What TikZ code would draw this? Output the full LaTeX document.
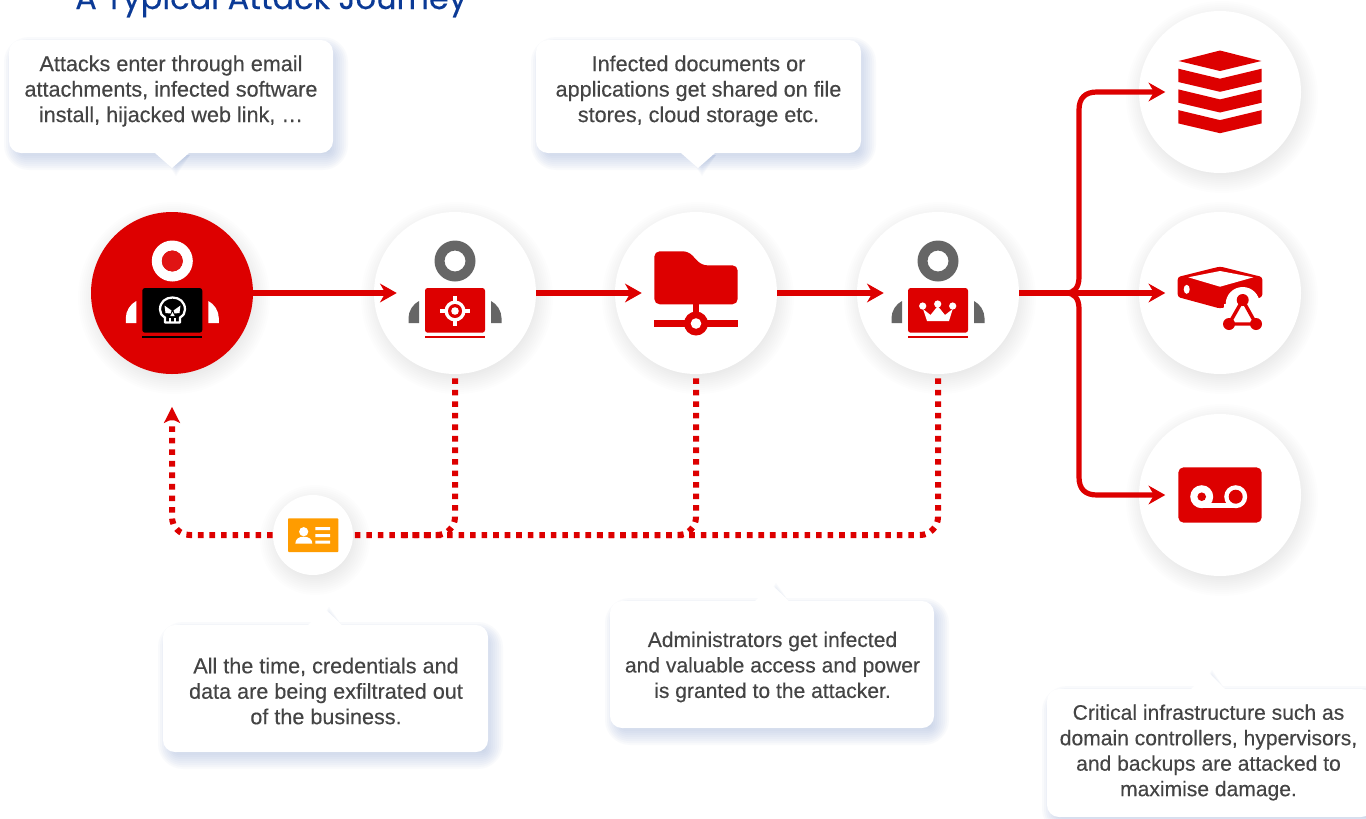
\documentclass[tikz,border=0pt]{standalone}
\usepackage{fontspec}
\usetikzlibrary{arrows.meta}
\setmainfont{Liberation Sans}
\newfontfamily\titlefont[FakeBold=0.25]{Poppins}
\newfontfamily\bodyfont[FakeBold=0.3]{Liberation Sans}
\definecolor{rd}{HTML}{DD0000}
\definecolor{gy}{HTML}{666666}
\definecolor{tx}{HTML}{444444}
\definecolor{ttl}{HTML}{0B3A96}
\definecolor{shb}{HTML}{8FA6D4}
\definecolor{org}{HTML}{FF9C00}
\tikzset{
  bubble/.style={circle,fill=white,inner sep=0pt,minimum size=121.5pt},
  smallbubble/.style={circle,fill=white,inner sep=0pt,minimum size=60pt},
  cbox/.style={fill=white,rounded corners=9pt,inner sep=0pt},
  ctext/.style={align=center,text=tx,inner sep=0pt,font=\bodyfont\fontsize{16.2}{19.1}\selectfont},
  ctextb/.style={ctext,font=\bodyfont\fontsize{15.8}{19.1}\selectfont},
  flow/.style={draw=rd,line width=3.9pt,-{Stealth[length=12.5pt,width=14pt,inset=4pt]}},
  leak/.style={draw=rd,line width=4.5pt,dash pattern=on 4.2pt off 4.45pt,rounded corners=13.5pt},
  leaktip/.style={-{Stealth[length=12pt,width=12pt,inset=3pt]}},
}
\newcommand\circshadow[3]{%
  \foreach \d in {-9,-7,...,15}{\fill[black,opacity=0.009] (#1+2,#2+5) circle[radius=#3+\d];}}
% name x1 y1 x2 y2 tipx tipy basey
\newcommand\calloutbox[8]{%
  \foreach \d in {-10,-8,...,10}{%
    \pgfmathsetmacro\rr{max(1,9+\d)}%
    \fill[shb,opacity=0.05,rounded corners=\rr pt] (#2+5-\d,#3+7-\d) rectangle (#4+5+\d,#5+7+\d);
  }
  \foreach \d in {-4,-2,...,6}{%
    \fill[shb,opacity=0.05] (#6+4-14,#8+2) -- (#6+4,#7+2+\d) -- (#6+4+14,#8+2) -- cycle;
  }
  \node[cbox,minimum width={(#4-#2)*0.75pt},minimum height={(#5-#3)*0.75pt}] (#1) at ({(#2+#4)/2},{(#3+#5)/2}) {};
  \fill[white] (#6-17,#8) -- (#6,#7) -- (#6+17,#8) -- cycle;
}
% person icon: cx, head colour, body colour
\newcommand\persona[3]{%
  \fill[#2,even odd rule] (#1,261) circle[radius=20.5] (#1,261) circle[radius=10.5];
  \fill[#2] (#1-36,301) .. controls (#1-42,304) and (#1-46.5,311) .. (#1-46.5,318) -- (#1-46.5,323) -- (#1-36,323) -- cycle;
  \fill[#2] (#1+36,301) .. controls (#1+42,304) and (#1+46.5,311) .. (#1+46.5,318) -- (#1+46.5,323) -- (#1+36,323) -- cycle;
  \fill[#3,rounded corners=2pt] (#1-30,288) rectangle (#1+30,332.7);
  \fill[#3] (#1-30,335.6) rectangle (#1+30,338.4);
}
\begin{document}
\begin{tikzpicture}[x=0.75pt,y=-0.75pt]
\useasboundingbox (0,0) rectangle (1366,818);
\clip (0,0) rectangle (1366,818);
\fill[white] (0,0) rectangle (1366,818);
\node[anchor=base west,inner sep=0pt,text=ttl,font=\titlefont\fontsize{24}{28}\selectfont] (title) at (75,9) {A Typical Attack Journey};

\calloutbox{b1}{9}{40}{333}{153}{172}{168}{153}
\calloutbox{b2}{536}{40}{861}{153}{698}{168}{153}
\calloutbox{b3}{163}{625}{488}{752}{325}{609}{625}
\calloutbox{b4}{610}{601}{934}{728}{772}{585}{601}
\calloutbox{b5}{1047}{689}{1373}{817}{1208}{672}{689}
\node[ctext] (t1) at (171,91) {Attacks enter through email\\attachments, infected software\\install, hijacked web link, …};
\node[ctext] (t2) at (698.5,91) {Infected documents or\\applications get shared on file\\stores, cloud storage etc.};
\node[ctext] (t3) at (326,691) {All the time, credentials and\\data are being exfiltrated out\\of the business.};
\node[ctextb] (t4) at (772.5,667) {Administrators get infected\\and valuable access and power\\is granted to the attacker.};
\node[ctextb] (t5) at (1208.5,752.5) {Critical infrastructure such as\\domain controllers, hypervisors,\\and backups are attacked to\\maximise damage.};

\circshadow{172}{293}{81}
\circshadow{455}{293}{81}
\circshadow{696}{293}{81}
\circshadow{938}{293}{81}
\circshadow{1220}{92}{81}
\circshadow{1220}{293}{81}
\circshadow{1220}{495}{81}
\circshadow{313}{535}{40}

\node[bubble,fill=rd] (n1) at (172,293) {};
\node[bubble] (n2) at (455,293) {};
\node[bubble] (n3) at (696,293) {};
\node[bubble] (n4) at (938,293) {};
\node[bubble] (r1) at (1220,92) {};
\node[bubble] (r2) at (1220,293) {};
\node[bubble] (r3) at (1220,495) {};
\node[smallbubble] (cred) at (313,535) {};

% connectors
\draw[flow] (n1.east) -- ([xshift=17.25pt]n2.west);
\draw[flow] (n2.east) -- ([xshift=20.25pt]n3.west);
\draw[flow] (n3.east) -- ([xshift=20.25pt]n4.west);
\draw[flow] (n4.east) -- ([xshift=19.9pt]r2.west);
\draw[draw=rd,line width=4.9pt] (n4.east) -- (1068,293);
\draw[flow] (1066,293) .. controls (1074,293) and (1079,288) .. (1079,277) -- (1079,110) .. controls (1079,98) and (1085,92) .. (1097,92) -- ([xshift=19.9pt]r1.west);
\draw[flow] (1066,293) .. controls (1074,293) and (1079,298) .. (1079,309) -- (1079,477) .. controls (1079,489) and (1085,495) .. (1097,495) -- ([xshift=19.9pt]r3.west);
\coordinate (lane) at (0,535);
\draw[leak] ([yshift=-3pt]n4.south) -- (n4.south |- lane) -- (cred.east);
\draw[leak] ([yshift=-3pt]n3.south) -- (n3.south |- lane) -- (600,535);
\draw[leak] ([yshift=-3pt]n2.south) -- (n2.south |- lane) -- (400,535);
\draw[leak,leaktip] (cred.west) -- (n1.south |- lane) -- ([yshift=-24.5pt]n1.south);

% node 1 icon
\persona{172.3}{white}{black}
\fill[rd!92!white] (172.3,261) circle[radius=10.5];
% skull
\begin{scope}[shift={(172.5,0)}]
\draw[white,line width=1.7pt,line join=round] (-7.5,317.5) -- (-7.5,322.5) -- (7.5,322.5) -- (7.5,317.5) .. controls (11,315.5) and (12.5,313) .. (12.5,309.5) .. controls (12.5,302) and (7,297.5) .. (0,297.5) .. controls (-7,297.5) and (-12.5,302) .. (-12.5,309.5) .. controls (-12.5,313) and (-11,315.5) .. (-7.5,317.5) -- cycle;
\fill[white] (-8,305.5) -- (-1,310.5) -- (-2,313.5) -- (-7,313) -- cycle;
\fill[white] (8,305.5) -- (1,310.5) -- (2,313.5) -- (7,313) -- cycle;
\fill[white] (0,312) -- (2.2,316) -- (-2.2,316) -- cycle;
\draw[white,line width=1.1pt] (-2.6,318) -- (-2.6,322.5) (2.6,318) -- (2.6,322.5);
\end{scope}

% node 2 icon
\persona{455}{gy}{rd}
\fill[white] (455,311) circle[radius=10.5];
\fill[rd] (455,311) circle[radius=7];
\fill[white] (455,311) circle[radius=3.8];
\draw[white,line width=2.4pt] (455,296) -- (455,303) (455,319) -- (455,326) (440,311) -- (447,311) (463,311) -- (470,311);

% node 3 icon
\fill[rd,rounded corners=4pt] (654.3,251.3) -- (688.3,251.3) -- (701.7,265.3) -- (737.7,265.3) -- (737.7,304.3) -- (654.3,304.3) -- cycle;
\fill[rd] (692.7,304) rectangle (699.3,316);
\fill[rd] (654.3,320) rectangle (737.7,326.8);
\fill[rd] (696,323.5) circle[radius=12];
\fill[white] (696,323.5) circle[radius=5.3];

% node 4 icon
\persona{938}{gy}{rd}
\fill[white] (923,309) -- (930.5,315) -- (937.7,306) -- (945,315) -- (952.7,309) -- (949,321) -- (927,321) -- cycle;
\fill[white] (922.7,306) circle[radius=3.6] (937.7,304) circle[radius=3.6] (952.7,306) circle[radius=3.6];

% right icon 1
\fill[rd] (1178.7,61) -- (1220,50.5) -- (1261.3,61) -- (1220,71) -- cycle;
\foreach \d in {0,20.7,41.4}{
  \fill[rd] (1178.3,68.7+\d) -- (1220,78.7+\d) -- (1261.7,68.7+\d) -- (1261.7,82+\d) -- (1220,91.8+\d) -- (1178.3,82+\d) -- cycle;
}
% right icon 2
\fill[rd,rounded corners=2pt] (1177.7,277) -- (1220,266.5) -- (1262.3,277) -- (1262.3,297) -- (1220,308.5) -- (1177.7,297) -- cycle;
\fill[white] (1188.3,277.3) -- (1220,271) -- (1253.3,277.3) -- (1220,286.7) -- cycle;
\fill[white] (1186.7,289.3) ellipse[x radius=3,y radius=4.5];
\fill[white] (1242.7,304) circle[radius=17];
\fill[white] (1224,304) rectangle (1262,332);
\fill[rd] (1242.7,300) circle[radius=6] (1229,324) circle[radius=6] (1256,324) circle[radius=6];
\draw[rd,line width=2.6pt,line join=round] (1242.7,300) -- (1229,324) -- (1256,324) -- cycle;
% right icon 3
\fill[rd,rounded corners=4pt] (1178.3,467.3) rectangle (1261.7,522.7);
\fill[white] (1201.7,496.7) circle[radius=11.5] (1235.7,496.7) circle[radius=11.5];
\fill[white] (1201.7,502.6) rectangle (1235.7,508.2);
\fill[rd] (1201.7,496.7) circle[radius=4.3] (1235.7,496.7) circle[radius=7];

% credential icon
\fill[org,rounded corners=0.6pt] (288,518.3) rectangle (338.3,552);
\fill[white] (303.7,531.7) circle[radius=4.6];
\fill[white] (295.3,543.7) .. controls (295.3,539) and (299,536.7) .. (303.7,536.7) .. controls (308.5,536.7) and (312.3,539) .. (312.3,543.7) -- cycle;
\fill[white] (315.3,527) rectangle (330,530) (315.3,534) rectangle (330,537) (315.3,540.5) rectangle (330,543.5);
\end{tikzpicture}
\end{document}
